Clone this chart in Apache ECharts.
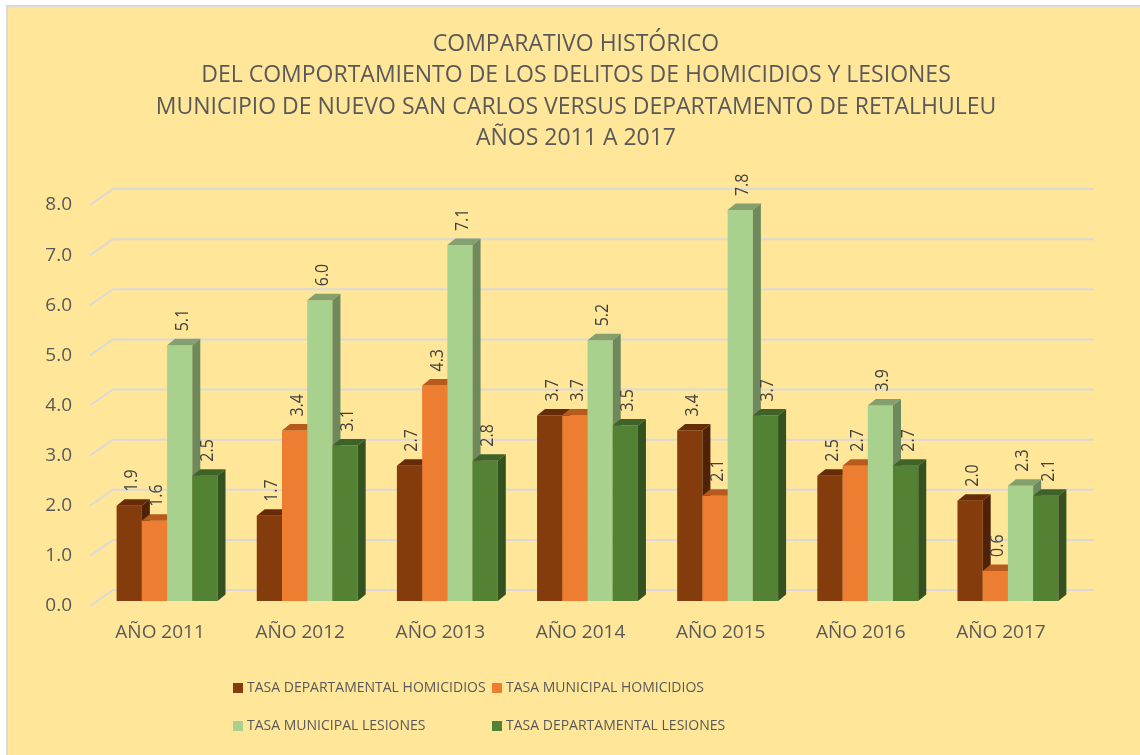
<!DOCTYPE html>
<html>
<head>
<meta charset="utf-8">
<title>Comparativo histórico</title>
<script src="https://cdn.jsdelivr.net/npm/echarts@6/dist/echarts.min.js"></script>
<style>
  html, body { margin: 0; padding: 0; background: #fff; overflow: hidden; }
  #wrap { position: relative; width: 1140px; height: 755px; }
  #bg { position: absolute; left: 6px; top: 5px; width: 1150px; height: 760px;
        background: #FFE699; border-left: 2px solid #D9D9D9; border-top: 2px solid #D9D9D9; }
  #chart { position: absolute; left: 0; top: 0; width: 1140px; height: 755px; }
</style>
</head>
<body>
<div id="wrap">
  <div id="bg"></div>
  <div id="chart"></div>
</div>
<script>
// datos
var years = ['AÑO 2011', 'AÑO 2012', 'AÑO 2013', 'AÑO 2014', 'AÑO 2015', 'AÑO 2016', 'AÑO 2017'];
var seriesNames = [
  'TASA DEPARTAMENTAL HOMICIDIOS',
  'TASA MUNICIPAL HOMICIDIOS',
  'TASA MUNICIPAL LESIONES',
  'TASA DEPARTAMENTAL LESIONES'
];
var depHomicidios = [1.9, 1.7, 2.7, 3.7, 3.4, 2.5, 2.0];
var munHomicidios = [1.6, 3.4, 4.3, 3.7, 2.1, 2.7, 0.6];
var munLesiones   = [5.1, 6.0, 7.1, 5.2, 7.8, 3.9, 2.3];
var depLesiones   = [2.5, 3.1, 2.8, 3.5, 3.7, 2.7, 2.1];
var yTicks = [0, 1, 2, 3, 4, 5, 6, 7, 8];

var allValues = [depHomicidios, munHomicidios, munLesiones, depLesiones];

// colores: frente, tapa, lado
var faces = [
  ['#843C0C', '#662C07', '#4F2206'],
  ['#ED7D31', '#B85A1E', '#9A4A18'],
  ['#A9D18E', '#84A06E', '#6E895B'],
  ['#548235', '#3F6228', '#34521F']
];

var DX = 8, DY = 6.5;       // profundidad de las barras
var FDX = 23, FDY = 16;     // profundidad del piso / rejilla
var font = "'Open Sans', sans-serif";

var chart = echarts.init(document.getElementById('chart'));

function barRender(si, labelsOnly) {
  return function (params, api) {
    var cat = api.value(0), v = api.value(1);
    var base = api.coord([cat, 0]);
    var top = api.coord([cat, v]);
    var band = api.size([1, 0])[0];
    var w = band * 0.18;
    var x = base[0] - 2 * w + si * w;
    var y0 = base[1], y1 = top[1];
    var c = faces[si];
    if (labelsOnly) {
      return {
        type: 'text',
        x: x + w / 2 + 2.5,
        y: y1 - 14,
        rotation: Math.PI / 2,
        scaleX: 0.84,
        style: {
          text: v.toFixed(1),
          fill: '#404040',
          font: '19px ' + font,
          align: 'left',
          verticalAlign: 'middle'
        }
      };
    }
    return {
      type: 'group',
      children: [
        { type: 'rect', shape: { x: x, y: y1, width: w, height: y0 - y1 },
          style: { fill: c[0] } },
        { type: 'polygon', shape: { points: [[x, y1], [x + DX, y1 - DY], [x + w + DX, y1 - DY], [x + w, y1]] },
          style: { fill: c[1] } },
        { type: 'polygon', shape: { points: [[x + w, y1], [x + w + DX, y1 - DY], [x + w + DX, y0 - DY], [x + w, y0]] },
          style: { fill: c[2] } }
      ]
    };
  };
}

var series = [];

// rejilla en perspectiva
series.push({
  type: 'custom',
  xAxisIndex: 0, yAxisIndex: 0,
  silent: true,
  z: 1,
  data: yTicks.map(function (t) { return [0, t]; }),
  renderItem: function (params, api) {
    var p = api.coord([0, api.value(1)]);
    var band = api.size([1, 0])[0];
    var x0 = p[0] - band / 2;
    var len = band * years.length;
    return {
      type: 'polyline',
      shape: { points: [[x0, p[1]], [x0 + FDX, p[1] - FDY], [x0 + FDX + len, p[1] - FDY]] },
      style: { stroke: '#D9D9D9', lineWidth: 2, fill: null }
    };
  }
});

allValues.forEach(function (vals, si) {
  series.push({
    name: seriesNames[si],
    type: 'custom',
    xAxisIndex: 1, yAxisIndex: 1,
    z: 2,
    itemStyle: { color: faces[si][0] },
    data: vals.map(function (v, i) { return [i, v]; }),
    renderItem: barRender(si, false)
  });
});
allValues.forEach(function (vals, si) {
  series.push({
    name: seriesNames[si],
    type: 'custom',
    xAxisIndex: 1, yAxisIndex: 1,
    z: 3,
    silent: true,
    itemStyle: { color: faces[si][0] },
    data: vals.map(function (v, i) { return [i, v]; }),
    renderItem: barRender(si, true)
  });
});

var legendText = { fontFamily: font, fontSize: 14, lineHeight: 20, color: '#595959', padding: [0, 0, 0, -1] };

var option = {
  animation: false,
  backgroundColor: 'transparent',
  title: {
    text: 'COMPARATIVO HISTÓRICO\nDEL COMPORTAMIENTO DE LOS DELITOS DE HOMICIDIOS Y LESIONES\nMUNICIPIO DE NUEVO SAN CARLOS VERSUS DEPARTAMENTO DE RETALHULEU\nAÑOS 2011 A 2017',
    left: 571,
    textAlign: 'center',
    top: 24,
    textStyle: {
      fontFamily: font,
      fontWeight: 'normal',
      fontSize: 23,
      lineHeight: 31.3,
      color: '#595959'
    }
  },
  legend: [
    {
      data: [seriesNames[0], seriesNames[2]],
      orient: 'vertical',
      left: 228, top: 673,
      icon: 'rect', itemWidth: 10, itemHeight: 10, itemGap: 18,
      textStyle: legendText
    },
    {
      data: [seriesNames[1], seriesNames[3]],
      orient: 'vertical',
      left: 487, top: 673,
      icon: 'rect', itemWidth: 10, itemHeight: 10, itemGap: 18,
      textStyle: legendText
    }
  ],
  grid: [
    { left: 90, right: 69, top: 205, bottom: 149 },   // piso frontal (ejes)
    { left: 97, right: 62, top: 200, bottom: 154 }    // barras
  ],
  xAxis: [
    {
      gridIndex: 0, type: 'category', data: years,
      axisLine: { show: false }, axisTick: { show: false },
      axisLabel: { color: '#595959', fontFamily: font, fontSize: 19, margin: 17 }
    },
    {
      gridIndex: 1, type: 'category', data: years, show: false
    }
  ],
  yAxis: [
    {
      gridIndex: 0, type: 'value', min: 0, max: 8, interval: 1,
      axisLine: { show: false }, axisTick: { show: false }, splitLine: { show: false },
      axisLabel: {
        color: '#595959', fontFamily: font, fontSize: 19, margin: 18,
        formatter: function (v) { return v.toFixed(1); }
      }
    },
    {
      gridIndex: 1, type: 'value', min: 0, max: 8, interval: 1, show: false,
      splitLine: { show: false }
    }
  ],
  series: series
};

chart.setOption(option);
</script>
</body>
</html>
